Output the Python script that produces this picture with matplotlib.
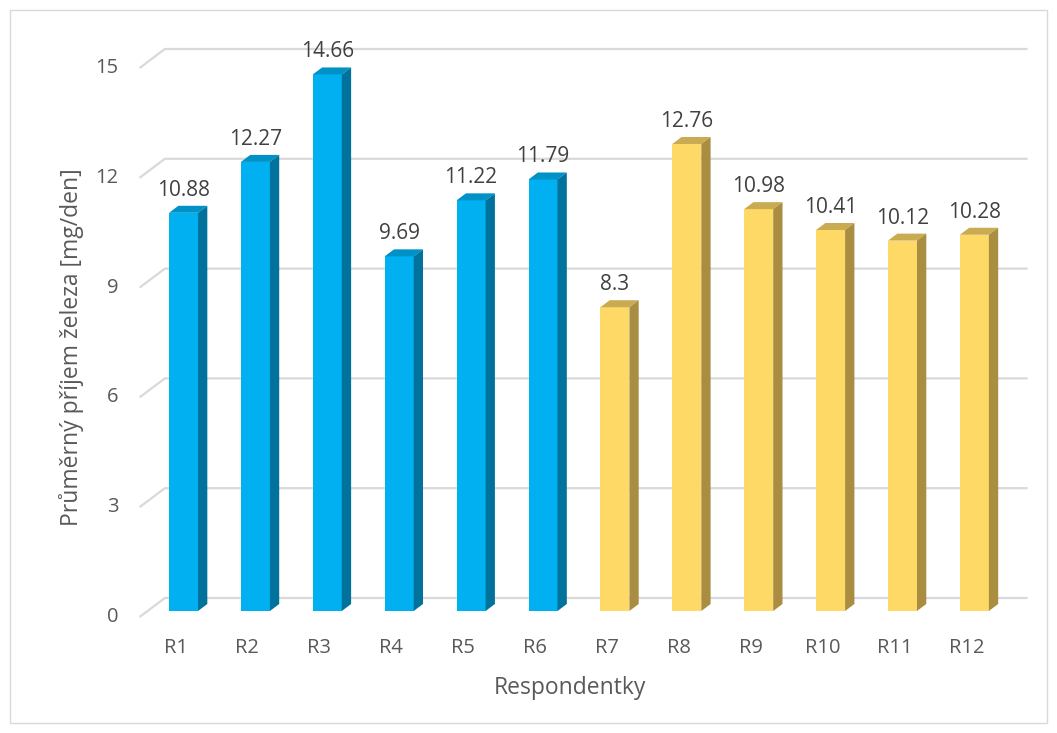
import numpy as np
import matplotlib
matplotlib.use("Agg")
import matplotlib.pyplot as plt
from matplotlib.patches import Polygon, Rectangle

plt.rcParams['font.family'] = ['Open Sans', 'DejaVu Sans']

labels = ["R1", "R2", "R3", "R4", "R5", "R6", "R7", "R8", "R9", "R10", "R11", "R12"]
values = [10.88, 12.27, 14.66, 9.69, 11.22, 11.79, 8.3, 12.76, 10.98, 10.41, 10.12, 10.28]
groups = [0, 0, 0, 0, 0, 0, 1, 1, 1, 1, 1, 1]
yticks = [0, 3, 6, 9, 12, 15]

# front / top / side colours for each group
face_cols = {0: ("#00B0F0", "#0091C6", "#00729C"),
             1: ("#FFD966", "#C9AB52", "#A98E42")}

W, H = 1057, 733
fig = plt.figure(figsize=(W / 100, H / 100), dpi=100)
xlim = (-0.8, 11.8)
ylim = (-1, 16)
ax = fig.add_axes([126 / W, (H - 647.6) / H, 905.9 / W, 622.2 / H])
ax.set_xlim(*xlim)
ax.set_ylim(*ylim)
ax.axis("off")

# pixels -> data units
sx = (xlim[1] - xlim[0]) / 905.9
sy = (ylim[1] - ylim[0]) / 622.2


def depth(d):
    # oblique offset for a depth of d pixels
    return 1.33 * d * sx, d * sy


grid_col = "#D9D9D9"
fx, fy = depth(-6)
bx, by = depth(13)
for v in yticks:
    ax.plot([-0.5 + fx, -0.5 + bx, 11.5 + bx], [v + fy, v + by, v + by],
            color=grid_col, lw=1.6, zorder=1, solid_capstyle="butt")
    ax.text(-0.5 + fx - 21 * sx, v + fy, str(v), ha="right", va="center",
            fontsize=14.5, color="#595959")

bw = 29 * sx
dx, dy = depth(7)
for i, (v, g) in enumerate(zip(values, groups)):
    front, top, side = face_cols[g]
    x0, x1 = i - bw / 2, i + bw / 2
    ax.add_patch(Polygon([(x0, 0), (x1, 0), (x1, v), (x0, v)], closed=True,
                         facecolor=front, edgecolor="none", zorder=3))
    ax.add_patch(Polygon([(x0, v), (x1, v), (x1 + dx, v + dy), (x0 + dx, v + dy)],
                         closed=True, facecolor=top, edgecolor="none", zorder=3))
    ax.add_patch(Polygon([(x1, 0), (x1 + dx, dy), (x1 + dx, v + dy), (x1, v)],
                         closed=True, facecolor=side, edgecolor="none", zorder=3))
    ax.text(i, v + 17 * sy, f"{v:g}", ha="center", va="baseline",
            fontsize=15, color="#404040", zorder=4)
    ax.text(i + fx, fy - 31 * sy, labels[i], ha="center", va="center",
            fontsize=14.5, color="#595959")

fig.text(570 / W, 1 - 688 / H, "Respondentky", ha="center", va="center",
         fontsize=16.5, color="#595959")
fig.text(72 / W, 1 - 347 / H, "Průměrný příjem železa [mg/den]", ha="center",
         va="center", rotation=90, fontsize=16.5, color="#595959")

fig.add_artist(Rectangle((10 / W, 10 / H), 1037 / W, 713 / H, transform=fig.transFigure,
                         fill=False, edgecolor="#D9D9D9", lw=1))

fig.savefig("out.png", dpi=100)
